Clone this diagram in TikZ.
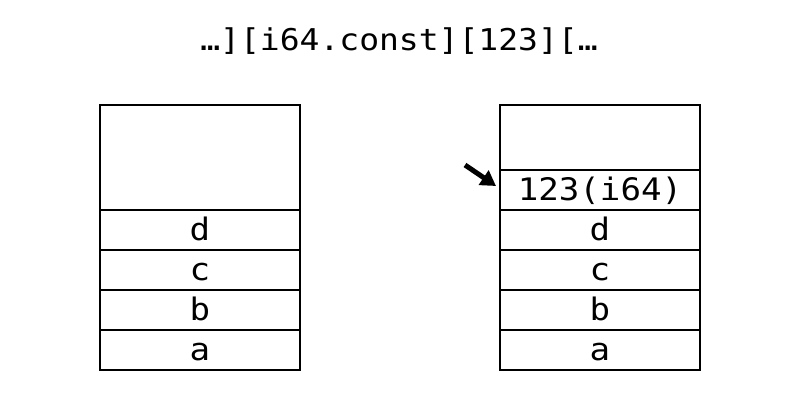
\documentclass[tikz,border=0pt]{standalone}
\usepackage{fontspec}
\usetikzlibrary{arrows.meta}
\newfontfamily\monof[FakeStretch=1.1]{DejaVu Sans Mono}
\begin{document}
\begin{tikzpicture}[x=1pt,y=-1pt,
  cell/.style={draw=black,line width=1.5pt,minimum width=200pt,inner sep=0pt,outer sep=0pt,font=\monof\fontsize{31}{31}\selectfont,anchor=north west,text height=21pt,text depth=0pt},
  lbl/.style={font=\monof\fontsize{30}{30}\selectfont,text height=21pt,text depth=0pt,inner sep=0pt}]
\useasboundingbox (0,0) rectangle (798,400);
\node[lbl] (title) at (399,40) {…][i64.const][123][…};
% left stack
\node[cell,minimum height=105pt] (l0) at (100,105) {};
\node[cell,minimum height=40pt] (ld) at (100,210) {d};
\node[cell,minimum height=40pt] (lc) at (100,250) {c};
\node[cell,minimum height=40pt] (lb) at (100,290) {b};
\node[cell,minimum height=40pt] (la) at (100,330) {a};
% right stack
\node[cell,minimum height=65pt] (r0) at (500,105) {};
\node[cell,minimum height=40pt] (rv) at (500,170) {123(i64)};
\node[cell,minimum height=40pt] (rd) at (500,210) {d};
\node[cell,minimum height=40pt] (rc) at (500,250) {c};
\node[cell,minimum height=40pt] (rb) at (500,290) {b};
\node[cell,minimum height=40pt] (ra) at (500,330) {a};
\coordinate (as) at (465,165);
\coordinate (ae) at (496,186);
\draw[line width=5pt,-{Triangle[length=15pt,width=17pt]}] (as) -- (ae);
\end{tikzpicture}
\end{document}
